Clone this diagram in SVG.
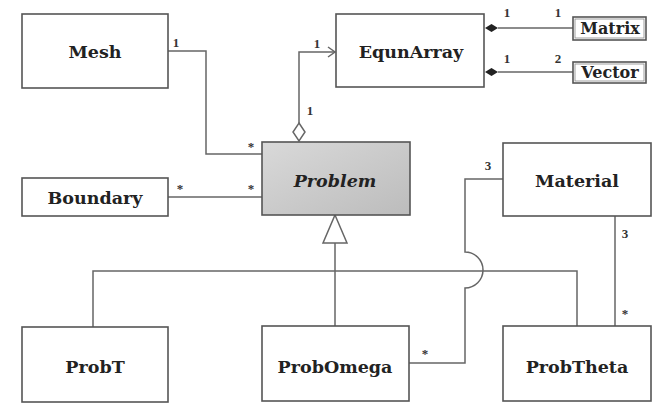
<svg xmlns="http://www.w3.org/2000/svg" width="654" height="405" viewBox="0 0 654 405">
<defs>
<linearGradient id="pg" x1="0" y1="0" x2="1" y2="1">
<stop offset="0" stop-color="#d9d9d9"/>
<stop offset="1" stop-color="#bcbcbc"/>
</linearGradient>
<style>
.box{fill:#fff;stroke:#555;stroke-width:1.6}
.ln{fill:none;stroke:#666;stroke-width:1.5}
.t{font-family:"DejaVu Serif","Liberation Serif",serif;font-weight:bold;font-size:17.5px;fill:#222;text-anchor:middle}
.ts{font-family:"DejaVu Serif","Liberation Serif",serif;font-weight:bold;font-size:16px;fill:#222;text-anchor:middle}
.m{font-family:"Liberation Serif",serif;font-weight:bold;font-size:13px;fill:#333;text-anchor:middle}
</style>
</defs>
<rect width="654" height="405" fill="#fff"/>
<g id="connectors">
<polyline class="ln" points="168,51 206,51 206,154 262,154"/>
<line class="ln" x1="168" y1="197" x2="262" y2="197"/>
<polyline class="ln" points="299,123 299,52 335,52"/>
<polyline class="ln" points="328,47 335,52 328,57"/>
<polygon points="299,123 305,132 299,141 293,132" fill="#fff" stroke="#666" stroke-width="1.5"/>
<line class="ln" x1="498" y1="28" x2="573" y2="28"/>
<polygon points="485,28 491.5,24 498,28 491.5,32" fill="#222"/>
<line class="ln" x1="498" y1="72" x2="573" y2="72"/>
<polygon points="485,72 491.5,68 498,72 491.5,76" fill="#222"/>
<polygon points="335,215 347,243 323,243" fill="#fff" stroke="#666" stroke-width="1.5"/>
<line class="ln" x1="335" y1="243" x2="335" y2="326"/>
<polyline class="ln" points="93,327 93,271 577,271 577,326"/>
<path class="ln" d="M503,179 H465 V252 A18,18 0 0 1 465,288 V363 H409"/>
<line class="ln" x1="615" y1="216" x2="615" y2="326"/>
</g>
<g id="labels">
<text class="m" x="176" y="47">1</text>
<text class="m" x="251" y="151">*</text>
<text class="m" x="180" y="193">*</text>
<text class="m" x="251" y="193">*</text>
<text class="m" x="310" y="115">1</text>
<text class="m" x="317" y="48">1</text>
<text class="m" x="507" y="17">1</text>
<text class="m" x="558" y="17">1</text>
<text class="m" x="507" y="63">1</text>
<text class="m" x="558" y="63">2</text>
<text class="m" x="488" y="170">3</text>
<text class="m" x="425" y="358">*</text>
<text class="m" x="625" y="238">3</text>
<text class="m" x="625" y="318">*</text>
</g>
<g id="Mesh"><rect class="box" x="22" y="14" width="146" height="74"/><text class="t" x="95" y="58">Mesh</text></g>
<g id="EqunArray"><rect class="box" x="336" y="14" width="148" height="73"/><text class="t" x="411" y="58">EqunArray</text></g>
<g id="Matrix"><rect class="box" x="573" y="17" width="73" height="23"/><rect x="575" y="19" width="69" height="19" fill="none" stroke="#888" stroke-width="0.8"/><text class="ts" x="610" y="34">Matrix</text></g>
<g id="Vector"><rect class="box" x="573" y="62" width="73" height="21"/><rect x="575" y="64" width="69" height="17" fill="none" stroke="#888" stroke-width="0.8"/><text class="ts" x="610" y="78">Vector</text></g>
<g id="Problem"><rect x="262" y="142" width="148" height="73" fill="url(#pg)" stroke="#555" stroke-width="1.6"/><text class="t" x="335" y="187" font-style="italic">Problem</text></g>
<g id="Boundary"><rect class="box" x="22" y="178" width="146" height="38"/><text class="t" x="95" y="204">Boundary</text></g>
<g id="Material"><rect class="box" x="503" y="143" width="148" height="73"/><text class="t" x="577" y="187">Material</text></g>
<g id="ProbT"><rect class="box" x="22" y="327" width="146" height="75"/><text class="t" x="95" y="373">ProbT</text></g>
<g id="ProbOmega"><rect class="box" x="262" y="326" width="147" height="75"/><text class="t" x="335" y="373">ProbOmega</text></g>
<g id="ProbTheta"><rect class="box" x="503" y="326" width="148" height="75"/><text class="t" x="577" y="373">ProbTheta</text></g>
</svg>
